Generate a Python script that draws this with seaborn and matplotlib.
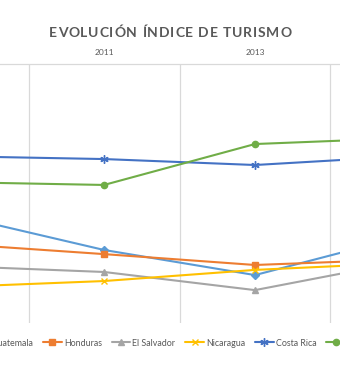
import matplotlib
matplotlib.use("Agg")
import matplotlib.pyplot as plt
import seaborn as sns
import pandas as pd

sns.set_theme(style="white")
plt.rcParams['font.family'] = ['Lato', 'DejaVu Sans']

# Data (index values; 2009/2015 extend beyond the visible crop)
years = ["2009", "2011", "2013", "2015"]
guatemala = [41.8, 28.2, 18.5, 33.7]
honduras = [30.6, 26.6, 22.4, 24.6]
el_salvador = [22.0, 19.7, 12.7, 23.9]
nicaragua = [13.9, 16.2, 20.5, 23.2]
costa_rica = [64.4, 63.3, 61.0, 64.4]
panama = [54.4, 53.3, 69.1, 71.4]

countries = ["Guatemala", "Honduras", "El Salvador", "Nicaragua", "Costa Rica", "Panamá"]
series = [guatemala, honduras, el_salvador, nicaragua, costa_rica, panama]
colors = ["#5B9BD5", "#ED7D31", "#A5A5A5", "#FFC000", "#4472C4", "#70AD47"]
markers = ["D", "s", "^", "x", (6, 2, 0), "o"]
msizes = [4, 4.5, 4.5, 5, 6, 4.5]
title = "EVOLUCIÓN ÍNDICE DE TURISMO"

W, H = 340, 370
fig = plt.figure(figsize=(W / 100, H / 100), dpi=100)
top_px, bot_px = 64, 323
ax = fig.add_axes([0, 1 - bot_px / H, 1, (bot_px - top_px) / H])

idx = list(range(len(years)))
for name, vals, c, m, ms in zip(countries, series, colors, markers, msizes):
    df = pd.DataFrame({"idx": idx, "valor": vals})
    sns.lineplot(data=df, x="idx", y="valor", ax=ax, color=c, marker=m,
                 markersize=ms, markeredgecolor=c, markerfacecolor=c,
                 markeredgewidth=1.0, linewidth=1.5, label=name)

ax.set_xlim(0.311, 2.563)
ax.set_ylim(0, 100)
ax.set_xticks([1, 2])
ax.set_xticklabels(["2011", "2013"])
ax.set_xticks([0.5, 1.5, 2.5], minor=True)
ax.xaxis.tick_top()
ax.tick_params(axis="x", which="both", length=0, pad=6, labelsize=6, labelcolor="#595959")
ax.set_yticks([])
ax.set_xlabel("")
ax.set_ylabel("")
ax.grid(False)
ax.grid(which="minor", axis="x", color="#D9D9D9", linewidth=0.9)
for s in ["left", "right", "bottom"]:
    ax.spines[s].set_visible(False)
ax.spines["top"].set_color("#D9D9D9")
ax.spines["top"].set_linewidth(0.9)

handles, labels = ax.get_legend_handles_labels()
ax.get_legend().remove()
fig.legend(handles, labels, loc="center", bbox_to_anchor=(0.512, 1 - 343 / H),
           ncol=6, frameon=False, fontsize=6.4, labelcolor="#595959",
           handlelength=2.1, handletextpad=0.25, columnspacing=1.1)

# Title with letter spacing, drawn character by character
renderer = fig.canvas.get_renderer()
tkw = dict(fontsize=10, fontweight="bold", color="#595959", va="center", ha="left")
widths = []
for ch in title:
    t = fig.text(0, 0, ch if ch != " " else "a a", **tkw)
    w = t.get_window_extent(renderer).width
    if ch == " ":
        wa = fig.text(0, 0, "aa", **tkw)
        w = w - wa.get_window_extent(renderer).width
        wa.remove()
    widths.append(w)
    t.remove()
spacing = 0.85
total = sum(widths) + spacing * (len(title) - 1)
x = (W / 2) - total / 2
yfig = 1 - 33 / H
for ch, w in zip(title, widths):
    if ch != " ":
        fig.text(x / W, yfig, ch, **tkw)
    x += w + spacing

fig.savefig("out.png", dpi=100)
